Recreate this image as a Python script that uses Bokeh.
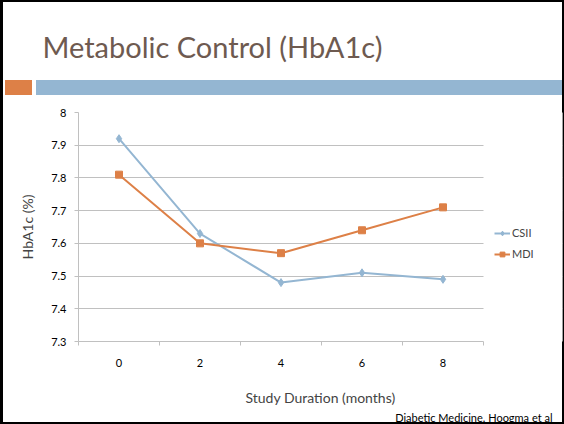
from bokeh.plotting import figure
from bokeh.models import Legend, LegendItem, FixedTicker, Range1d, Title, BoxAnnotation
from bokeh.embed import file_html
from bokeh.resources import INLINE

# ---- data ----
months = [0, 2, 4, 6, 8]
csii = [7.92, 7.63, 7.48, 7.51, 7.49]
mdi = [7.81, 7.60, 7.57, 7.64, 7.71]
series_names = ["CSII", "MDI"]
y_ticks = [7.3, 7.4, 7.5, 7.6, 7.7, 7.8, 7.9, 8.0]
y_tick_labels = ["7.3", "7.4", "7.5", "7.6", "7.7", "7.8", "7.9", "8"]
x_ticks = [0, 2, 4, 6, 8]
x_boundaries = [-1, 1, 3, 5, 7, 9]

title_text = "Metabolic Control (HbA1c)"
x_title = "Study Duration (months)"
y_title = "HbA1c (%)"
citation = "Diabetic Medicine. Hoogma et al"

FONT = "Lato"
BLUE = "#94b6d2"
ORANGE = "#dd8047"
GRID = "#c0c0c0"

slide_css = {
    "position": "absolute", "left": "0px", "top": "0px",
    "background": (f"linear-gradient({ORANGE},{ORANGE}) 5px 80px / 27px 15px no-repeat, "
                   f"linear-gradient({BLUE},{BLUE}) 36px 80px / 526px 15px no-repeat, white"),
    "box-shadow": "inset 3px 2px 0 0 black, inset -2px -2px 0 0 black",
}

# plot area spans x -1..9 over 405 px; the frame continues 79 px further right for the legend
x_start, x_end_axis = x_boundaries[0], x_boundaries[-1]
x_end = x_end_axis + 79 * (x_end_axis - x_start) / 405

p = figure(width=564, height=424, output_backend="svg", toolbar_location=None,
           x_range=Range1d(x_start, x_end), y_range=Range1d(7.3, 8.0),
           min_border_left=78, min_border_right=2, min_border_top=112, min_border_bottom=83,
           styles=slide_css)
p.outline_line_color = None
p.background_fill_color = "white"
p.border_fill_color = None
p.title.text = ""
p.title.standoff = 0

# slide title (spacer keeps it above the coloured bars)
spacer = Title(text=" ", text_font_size="10px", standoff=36)
main_title = Title(text=title_text, align="left", offset=-36, standoff=0,
                   text_font=FONT, text_font_size="29px", text_font_style="normal",
                   text_color="#6e5a50")
p.add_layout(spacer, "above")
p.add_layout(main_title, "above")

# axes
p.xaxis.ticker = FixedTicker(ticks=x_ticks, minor_ticks=x_boundaries)
p.xaxis.bounds = (x_start, x_end_axis)
p.xaxis.major_tick_out = 0
p.xaxis.major_tick_in = 0
p.xaxis.minor_tick_out = 4
p.xaxis.minor_tick_in = 0
p.xaxis.axis_line_color = GRID
p.xaxis.minor_tick_line_color = GRID
p.xaxis.major_label_standoff = 13
p.xaxis.axis_label = x_title
p.xaxis.axis_label_standoff = 19
p.xaxis.axis_label_text_font = FONT
p.xaxis.axis_label_text_font_size = "14px"
p.xaxis.axis_label_text_font_style = "normal"
p.xaxis.major_label_text_font = FONT
p.xaxis.major_label_text_font_size = "11px"
p.xaxis.major_label_text_color = "black"

p.yaxis.ticker = FixedTicker(ticks=y_ticks)
p.yaxis.major_label_overrides = dict(zip(y_ticks, y_tick_labels))
p.yaxis.major_tick_out = 4
p.yaxis.major_tick_in = 0
p.yaxis.minor_tick_line_color = None
p.yaxis.axis_line_color = GRID
p.yaxis.major_tick_line_color = GRID
p.yaxis.major_label_standoff = 8
p.yaxis.axis_label = y_title
p.yaxis.axis_label_standoff = 12
p.yaxis.axis_label_text_font = FONT
p.yaxis.axis_label_text_font_size = "14px"
p.yaxis.axis_label_text_font_style = "normal"
p.yaxis.major_label_text_font = FONT
p.yaxis.major_label_text_font_size = "11px"
p.yaxis.major_label_text_color = "black"

p.xgrid.grid_line_color = None
p.ygrid.grid_line_color = GRID
p.ygrid.ticker = FixedTicker(ticks=y_ticks)

# white cover so grid lines stop at the end of the category axis
p.add_layout(BoxAnnotation(left=x_end_axis, fill_color="white", fill_alpha=1,
                           line_color=None, level="underlay"))

# series
l1 = p.line(months, csii, line_color=BLUE, line_width=2)
m1 = p.scatter(months, csii, marker="diamond", size=8, fill_color=BLUE, line_color=BLUE)
l2 = p.line(months, mdi, line_color=ORANGE, line_width=2)
m2 = p.scatter(months, mdi, marker="square", size=7, fill_color=ORANGE, line_color=ORANGE)

legend = Legend(items=[LegendItem(label=series_names[0], renderers=[l1, m1]),
                       LegendItem(label=series_names[1], renderers=[l2, m2])],
                location=(416, 81), border_line_color=None, background_fill_alpha=0,
                padding=0, margin=0, spacing=8, glyph_width=16, glyph_height=12,
                label_height=12, label_standoff=2, label_text_font=FONT,
                label_text_font_size="11px")
p.add_layout(legend)

# citation
cite = Title(text=citation, align="right", offset=10, standoff=0,
             text_font=FONT, text_font_size="11px", text_font_style="normal",
             text_color="black")
p.add_layout(cite, "below")

open("out.html", "w").write(file_html(p, INLINE))
